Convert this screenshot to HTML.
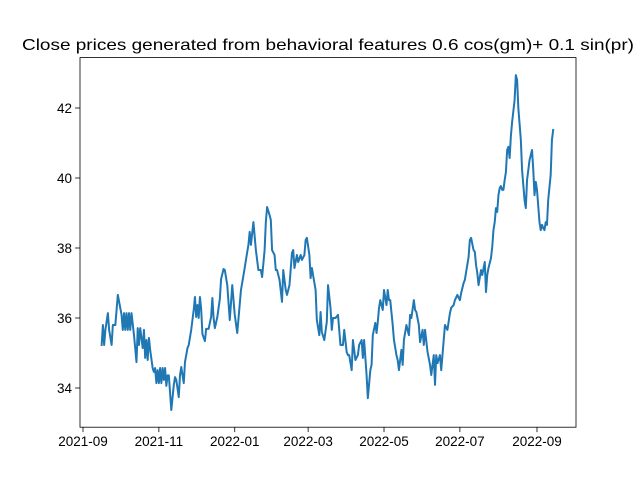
<!DOCTYPE html>
<html><head><meta charset="utf-8"><style>
body{margin:0;background:#fff}
svg{display:block;font-family:"Liberation Sans","DejaVu Sans",sans-serif}
</style></head><body>
<svg id="chart" width="640" height="480" viewBox="0 0 640 480">
<rect width="640" height="480" fill="#fff"/>
<text x="328" y="50" font-size="16" text-anchor="middle" textLength="612" lengthAdjust="spacingAndGlyphs">Close prices generated from behavioral features 0.6 cos(gm)+ 0.1 sin(pr)</text>
<g id="ticks"></g>
<path id="series" fill="none" stroke="#1f77b4" stroke-width="2" stroke-linejoin="round" stroke-linecap="square"/>
<rect x="80" y="57.6" width="496" height="369.6" fill="none" stroke="#000" stroke-width="0.8"/>
</svg>
<script>
const startDate = "2021-09-15";
const days = [1,2,3,4,6,7,9,10,12,14,17,18,19,20,21,22,23,24,25,27,29,30,31,32,34,35,36,37,38,39,40,42,43,44,45,46,47,48,49,50,51,52,53,54,55,57,59,60,61,63,64,65,67,68,70,71,73,75,76,77,78,79,80,81,82,84,85,87,89,90,91,92,94,96,97,99,100,102,104,106,108,110,113,116,117,119,120,121,123,125,127,129,130,132,133,134,136,137,138,140,141,142,144,146,147,149,150,152,154,155,156,158,159,161,162,164,165,166,168,169,170,173,174,176,177,178,180,182,183,185,186,187,189,191,192,193,195,196,198,199,200,202,203,205,207,208,210,211,212,214,215,217,218,219,221,222,223,224,225,227,228,230,231,232,233,235,236,238,239,240,242,243,244,246,248,249,250,252,253,254,256,257,259,260,261,263,265,266,268,269,270,271,273,274,276,277,279,281,282,284,285,287,289,290,292,293,294,296,297,298,300,301,302,303,304,306,307,309,310,311,312,314,315,316,317,318,319,320,321,322,323,324,325,326,327,328,329,330,331,333,334,335,336,338,339,341,342,343,345,347,348,349,350,351,353,354,355,356,357,358,359,360,362,363,364];
const prices = [35.23,35.80,35.23,35.66,36.14,35.66,35.23,35.80,35.80,36.66,36.09,35.66,36.14,35.66,36.14,35.66,36.14,35.66,36.14,35.51,34.74,35.71,35.23,35.71,35.14,35.66,34.86,35.37,34.80,35.43,35.09,34.57,34.46,34.57,34.14,34.51,34.14,34.57,34.14,34.57,34.23,34.57,34.06,34.36,34.36,33.37,34.09,34.31,34.23,33.74,34.37,34.60,34.14,34.74,35.14,35.23,35.66,36.23,36.60,36.03,36.37,36.00,36.60,36.26,35.54,35.34,35.69,35.69,36.03,36.57,36.00,35.71,36.03,36.54,37.11,37.40,37.37,36.94,35.94,36.94,36.09,35.57,36.80,37.43,37.66,38.09,38.46,38.09,38.74,37.94,37.37,37.37,37.17,37.94,38.74,39.17,38.94,38.80,37.94,37.80,37.37,37.37,37.09,36.46,37.37,36.80,36.66,36.94,37.86,37.94,37.43,37.80,37.60,37.80,37.66,37.80,38.23,38.29,37.80,37.14,37.43,36.80,35.94,35.51,36.17,35.60,35.37,35.89,36.94,36.29,35.66,36.00,36.00,36.09,35.66,35.23,35.23,35.66,35.03,34.94,34.94,34.51,35.37,34.80,34.94,35.23,35.37,34.86,35.37,34.37,33.71,34.51,34.66,35.51,35.86,35.57,35.89,36.29,36.51,36.23,36.80,36.37,36.80,36.51,36.51,35.80,35.37,34.94,34.80,34.51,35.09,34.66,35.37,35.80,35.51,36.09,36.00,36.51,36.23,36.17,35.80,35.31,35.66,35.23,35.66,35.03,34.66,34.37,34.94,34.09,34.94,34.71,34.94,34.51,35.37,35.80,35.66,36.14,36.29,36.37,36.51,36.66,36.51,36.71,37.00,37.09,37.31,37.74,38.23,38.29,37.94,37.89,37.51,37.29,36.94,37.37,37.23,37.60,36.74,37.23,37.43,37.71,38.03,38.51,38.74,39.14,39.03,39.51,39.71,39.77,39.66,39.66,39.94,40.17,40.80,40.89,40.57,41.20,41.60,42.23,42.94,42.80,42.00,41.09,40.23,39.37,39.14,39.94,40.51,40.80,40.23,39.51,39.89,39.66,38.74,38.51,38.66,38.57,38.51,38.74,38.66,39.37,40.09,41.09,41.37];
const yTicks = [34,36,38,40,42];
const xTickLabels = ["2021-09","2021-11","2022-01","2022-03","2022-05","2022-07","2022-09"];

const MS = 86400000;
const origin = Date.UTC(2021,8,1);
const xScale = t => 83 + (t - origin) / MS * 454 / 365;
const yScale = v => 388 - (v - 34) * 35;
const start = Date.parse(startDate + "T00:00:00Z");

const svgNS = "http://www.w3.org/2000/svg";
const tg = document.getElementById("ticks");
function mk(tag, attrs){const e=document.createElementNS(svgNS,tag);for(const k in attrs)e.setAttribute(k,attrs[k]);tg.appendChild(e);return e;}

yTicks.forEach(v=>{
  const y=yScale(v);
  const l=mk("line",{x1:75.1,x2:80,y1:y,y2:y,stroke:"#000","stroke-width":0.8});
  
  
  const t=mk("text",{x:72,y:y+5,"font-size":13.5,"text-anchor":"end"});
  t.textContent=String(v);
  
  
});
xTickLabels.forEach(s=>{
  const x=xScale(Date.parse(s+"-01T00:00:00Z"));
  const l=mk("line",{x1:x,x2:x,y1:427.2,y2:432.1,stroke:"#000","stroke-width":0.8});
  
  
  const t=mk("text",{x:x,y:446,"font-size":13.5,"text-anchor":"middle"});
  t.textContent=s;
  
  
});
let d="";
days.forEach((dd,i)=>{
  const x=xScale(start+dd*MS), y=yScale(prices[i]);
  d+=(i?"L":"M")+x.toFixed(2)+","+y.toFixed(2);
});
document.getElementById("series").setAttribute("d",d);
</script>
</body></html>
